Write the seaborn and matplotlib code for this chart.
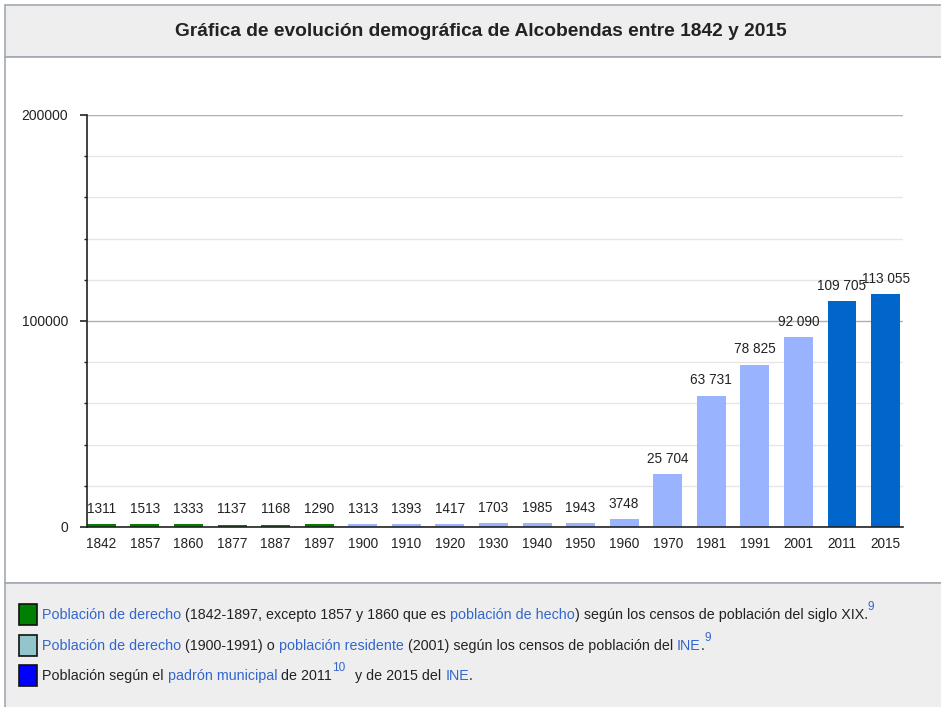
import matplotlib
matplotlib.use("Agg")
import matplotlib.pyplot as plt
import seaborn as sns
import pandas as pd
from matplotlib.patches import Rectangle
from matplotlib.ticker import MultipleLocator

years = ['1842', '1857', '1860', '1877', '1887', '1897', '1900', '1910', '1920', '1930',
         '1940', '1950', '1960', '1970', '1981', '1991', '2001', '2011', '2015']
population = [1311, 1513, 1333, 1137, 1168, 1290, 1313, 1393, 1417, 1703,
              1985, 1943, 3748, 25704, 63731, 78825, 92090, 109705, 113055]
source = ['siglo XIX'] * 6 + ['INE censo'] * 11 + ['padrón'] * 2
bar_colors = {'siglo XIX': '#008000', 'INE censo': '#99b3ff', 'padrón': '#0066cc'}
legend_colors = ['#008000', '#93c5cc', '#0000ff']

title = 'Gráfica de evolución demográfica de Alcobendas entre 1842 y 2015'

sns.set_theme(style='white')
plt.rcParams['font.family'] = ['Liberation Sans', 'DejaVu Sans']

df = pd.DataFrame({'year': years, 'pop': population, 'source': source})

W, H = 941, 707
fig = plt.figure(figsize=(W / 100, H / 100), dpi=100)
fig.patch.set_facecolor('white')

def px_rect(x0, y0, x1, y1, z=-5, **kw):
    fig.patches.append(Rectangle((x0 / W, 1 - y1 / H), (x1 - x0) / W, (y1 - y0) / H,
                                 transform=fig.transFigure, figure=fig, zorder=z, **kw))

# backgrounds
px_rect(5, 5, 960, 57, facecolor='#eeeeee', edgecolor='#a2a9b1', linewidth=1.2)
px_rect(5, 57, 960, 583, facecolor='white', edgecolor='#a2a9b1', linewidth=1.2)
px_rect(5, 583, 960, 720, facecolor='#eeeeee', edgecolor='#a2a9b1', linewidth=1.2)

fig.text(481 / W, 1 - 32 / H, title, ha='center', va='center', fontsize=13.8,
         fontweight='bold', color='#222222')

ax = fig.add_axes([87 / W, 1 - 527 / H, (903 - 87) / W, (527 - 115) / H])
ax.set_facecolor('none')
sns.barplot(data=df, x='year', y='pop', hue='source', palette=bar_colors, dodge=False,
            width=0.665, legend=False, ax=ax, saturation=1, linewidth=0, edgecolor='none')
ax.set_xlim(-0.33, 18.4)
ax.set_ylim(0, 200000)
ax.yaxis.set_major_locator(MultipleLocator(100000))
ax.yaxis.set_minor_locator(MultipleLocator(20000))
ax.grid(which='minor', axis='y', color='#e6e6e6', linewidth=1.0)
ax.grid(which='major', axis='y', color='#b0b0b0', linewidth=1.0)
ax.set_axisbelow(True)
for s in ['top', 'right']:
    ax.spines[s].set_visible(False)
ax.spines['left'].set_color('#222222')
ax.spines['bottom'].set_color('#222222')
ax.spines['left'].set_linewidth(1.2)
ax.spines['bottom'].set_linewidth(1.2)
ax.tick_params(axis='y', which='major', left=True, length=5, width=1.2, color='#222222',
               labelsize=10, pad=8.5, labelcolor='#222222')
ax.tick_params(axis='y', which='minor', left=True, length=2.2, width=1, color='#222222')
ax.tick_params(axis='x', bottom=False, labelsize=9.8, pad=1.5, labelcolor='#222222')
ax.set_yticks([0, 100000, 200000], ['0', '100000', '200000'])
ax.set_xlabel('')
ax.set_ylabel('')

def fmt(v):
    return f'{v:,}'.replace(',', ' ') if v >= 10000 else str(v)

for i, v in enumerate(population):
    ax.annotate(fmt(v), (i, v), xytext=(0, 11), textcoords='offset points',
                ha='center', va='center', fontsize=9.8, color='#222222')

# legend
link = '#3366cc'
dark = '#222222'
lines = [
    [('Población de derecho', link), (' (1842-1897, excepto 1857 y 1860 que es ', dark),
     ('población de hecho', link), (') según los censos de población del siglo XIX.', dark),
     ('9', link, 'sup')],
    [('Población de derecho', link), (' (1900-1991) o ', dark), ('población residente', link),
     (' (2001) según los censos de población del ', dark), ('INE', link), ('.', dark),
     ('9', link, 'sup')],
    [('Población según el ', dark), ('padrón municipal', link), (' de 2011', dark),
     ('10', link, 'sup'), ('  y de 2015 del ', dark), ('INE', link), ('.', dark)],
]
ys = [615, 646, 676]
fig.canvas.draw()
renderer = fig.canvas.get_renderer()
for k, (segs, yc) in enumerate(zip(lines, ys)):
    px_rect(19, yc - 11, 37, yc + 10, z=2, facecolor=legend_colors[k], edgecolor='#111111',
            linewidth=1.2)
    x = 42
    for seg in segs:
        txt, col = seg[0], seg[1]
        sup = len(seg) > 2
        t = fig.text(x / W, 1 - (yc - (8 if sup else 0)) / H, txt, ha='left', va='center',
                     fontsize=8.5 if sup else 10.3, color=col)
        bb = t.get_window_extent(renderer=renderer)
        x += bb.width + (2 if sup else 0)

fig.savefig('out.png', dpi=100)
